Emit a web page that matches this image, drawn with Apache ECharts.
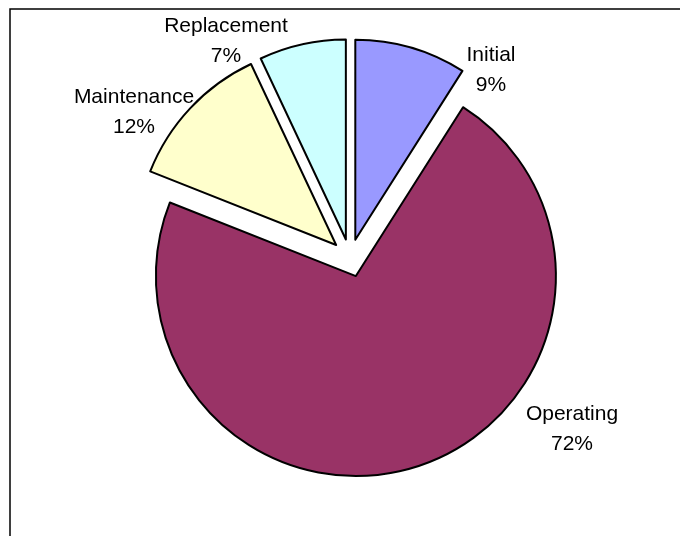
<!DOCTYPE html>
<html>
<head>
<meta charset="utf-8">
<script src="https://cdn.jsdelivr.net/npm/echarts@6/dist/echarts.min.js"></script>
<style>
  html, body { margin: 0; padding: 0; background: #fff; }
  #chart { width: 680px; height: 536px; }
</style>
</head>
<body>
<div id="chart"></div>
<script>
// Cost breakdown by category (share of total, %)
const categories = ['Initial', 'Operating', 'Maintenance', 'Replacement'];
const shares = [9, 72, 12, 7];
const sliceColors = ['#9999FF', '#993366', '#FFFFCC', '#CCFFFF'];

// Centre point of each two-line label block (px)
const labelAnchors = [[491, 70], [572, 429], [134, 112], [226, 41]];

const FONT = 'Arial, "Liberation Sans", sans-serif';

const chart = echarts.init(document.getElementById('chart'), null, { renderer: 'canvas' });

const frame = {
  type: 'rect',
  shape: { x: 10, y: 9, width: 720, height: 600 },
  style: { fill: 'none', stroke: '#000', lineWidth: 1.5 },
  silent: true,
  z: 0
};

// Category name + percentage, placed outside each slice
const sliceLabels = categories.map((name, i) => ({
  type: 'text',
  x: labelAnchors[i][0],
  y: labelAnchors[i][1],
  silent: true,
  z: 10,
  style: {
    text: name + '\n' + shares[i] + '%',
    fontFamily: FONT,
    fontSize: 21,
    lineHeight: 30,
    fill: '#000',
    align: 'center',
    verticalAlign: 'middle'
  }
}));

chart.setOption({
  animation: false,
  backgroundColor: '#ffffff',
  graphic: [frame].concat(sliceLabels),
  series: [{
    type: 'pie',
    center: [350, 258],
    radius: [0, 200],
    startAngle: 90,
    clockwise: true,
    selectedMode: 'multiple',
    selectedOffset: 19,
    avoidLabelOverlap: false,
    emphasis: { disabled: true },
    itemStyle: { borderColor: '#000', borderWidth: 2 },
    label: { show: false },
    labelLine: { show: false },
    data: categories.map((name, i) => ({
      name,
      value: shares[i],
      selected: true,
      itemStyle: { color: sliceColors[i] }
    }))
  }]
});
</script>
</body>
</html>
